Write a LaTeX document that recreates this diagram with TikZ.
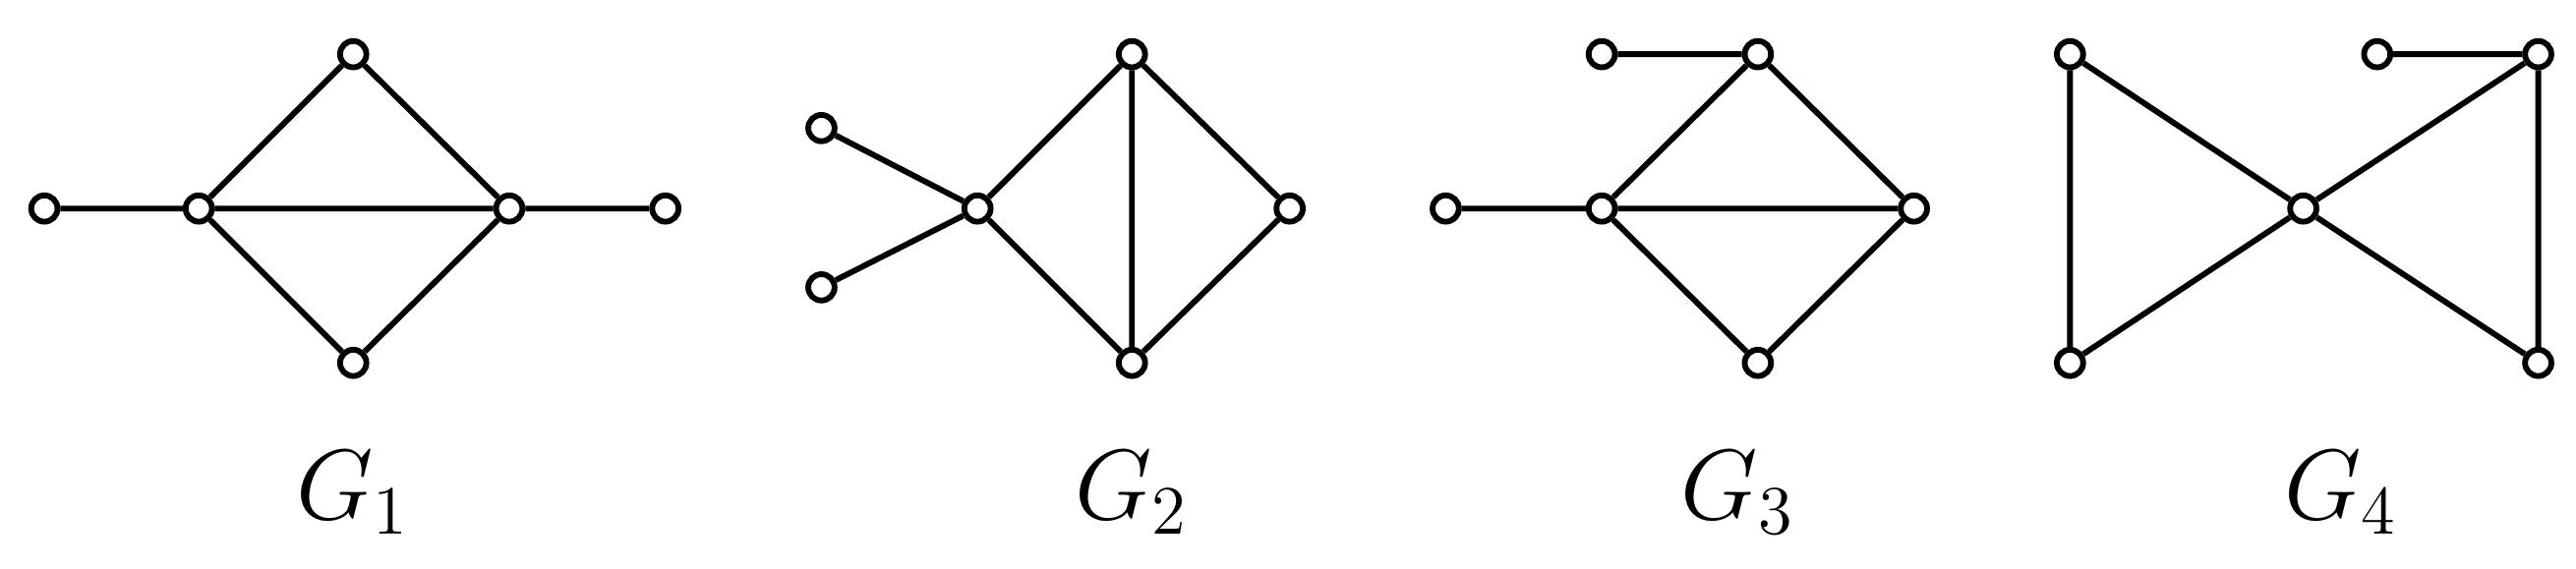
\documentclass[tikz,border=0pt]{standalone}
\begin{document}
\begin{tikzpicture}[x=0.01cm,y=-0.01cm,
  v/.style={circle,draw,fill=white,line width=1pt,inner sep=0pt,minimum size=0.16cm},
  e/.style={line width=1pt},
  lab/.style={font=\LARGE}]
\useasboundingbox (0,0) rectangle (1568,346);
% G1
\node[v] (a1) at (27,127) {};
\node[v] (a2) at (121,127) {};
\node[v] (a3) at (215,33) {};
\node[v] (a4) at (310,127) {};
\node[v] (a5) at (215,221) {};
\node[v] (a6) at (405,127) {};
% G2
\node[v] (b1) at (500,78) {};
\node[v] (b2) at (500,175) {};
\node[v] (b3) at (595,127) {};
\node[v] (b4) at (689,33) {};
\node[v] (b5) at (689,221) {};
\node[v] (b6) at (785,127) {};
% G3
\node[v] (c1) at (975,33) {};
\node[v] (c2) at (1070,33) {};
\node[v] (c3) at (880,127) {};
\node[v] (c4) at (975,127) {};
\node[v] (c5) at (1165,127) {};
\node[v] (c6) at (1070,221) {};
% G4
\node[v] (d1) at (1260,33) {};
\node[v] (d2) at (1447,33) {};
\node[v] (d3) at (1545,33) {};
\node[v] (d4) at (1402,127) {};
\node[v] (d5) at (1260,221) {};
\node[v] (d6) at (1545,221) {};
\begin{scope}[on background layer/.style={}]
\end{scope}
\draw[e] (a1)--(a2) (a2)--(a3) (a2)--(a5) (a2)--(a4) (a3)--(a4) (a5)--(a4) (a4)--(a6);
\draw[e] (b1)--(b3) (b2)--(b3) (b3)--(b4) (b3)--(b5) (b4)--(b5) (b4)--(b6) (b5)--(b6);
\draw[e] (c1)--(c2) (c3)--(c4) (c4)--(c2) (c4)--(c5) (c2)--(c5) (c4)--(c6) (c6)--(c5);
\draw[e] (d1)--(d5) (d1)--(d4) (d5)--(d4) (d2)--(d3) (d3)--(d4) (d4)--(d6) (d3)--(d6);
\node[lab] (l1) at (215,300) {$G_1$};
\node[lab] (l2) at (689,300) {$G_2$};
\node[lab] (l3) at (1058,300) {$G_3$};
\node[lab] (l4) at (1425,300) {$G_4$};
\end{tikzpicture}
\end{document}
